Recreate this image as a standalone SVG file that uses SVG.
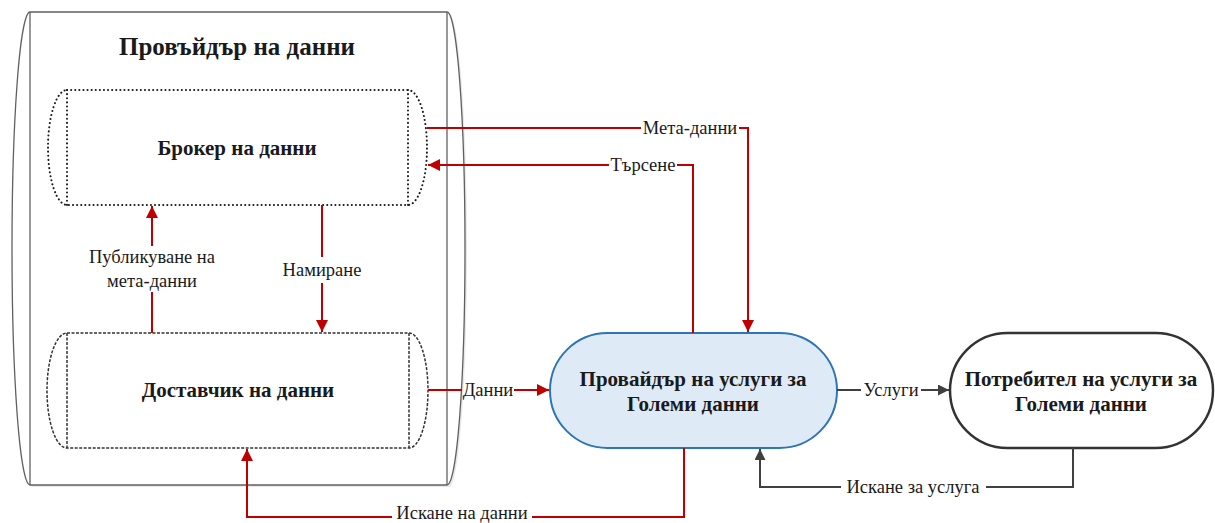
<svg xmlns="http://www.w3.org/2000/svg" width="1215" height="523" viewBox="0 0 1215 523">
<style>
text{font-family:"Liberation Serif","Times New Roman",serif;fill:#1a1a1a;text-anchor:middle}
.t{font-weight:bold}
.lbl{font-size:18.5px}
.red{stroke:#C00000;stroke-width:2;fill:none}
.gray{stroke:#404040;stroke-width:2;fill:none}
.cont{stroke:#606060;stroke-width:1.3;fill:#fff}
.dot{stroke:#1a1a1a;stroke-width:2;fill:#fff;stroke-dasharray:0.1 4;stroke-linecap:round}
.dot2{stroke:#1a1a1a;stroke-width:2;fill:none;stroke-dasharray:0.1 4;stroke-linecap:round}
.dash{stroke:#333;stroke-width:1.5;fill:#fff;stroke-dasharray:3 1.5}
.dash2{stroke:#333;stroke-width:1.5;fill:none;stroke-dasharray:3 1.5}
</style>
<defs>
<marker id="ar" viewBox="0 0 10 10" refX="10" refY="5" markerWidth="14" markerHeight="12" markerUnits="userSpaceOnUse" orient="auto"><path d="M0,0 L10,5 L0,10 Z" fill="#C00000"/></marker>
<marker id="ag" viewBox="0 0 10 10" refX="10" refY="5" markerWidth="12" markerHeight="11" markerUnits="userSpaceOnUse" orient="auto"><path d="M0,0 L10,5 L0,10 Z" fill="#404040"/></marker>
</defs>
<g id="provider-container">
<path d="M32,14 H449 A18,236.5 0 0 1 449,487 H32 A18,236.5 0 0 1 32,14 Z" fill="#d8d8d8" opacity="0.6"/>
<path class="cont" d="M30,12 H447 A18,236.5 0 0 1 447,485 H30 A18,236.5 0 0 1 30,12 Z"/>
<line x1="30" y1="12" x2="30" y2="485" stroke="#606060" stroke-width="1.3"/>
<line x1="447" y1="12" x2="447" y2="485" stroke="#606060" stroke-width="1.3"/>
<text class="t" x="237" y="55" font-size="25">Провъйдър на данни</text>
</g>
<g id="broker">
<path class="dot" d="M67,90 H408 A19,57.5 0 0 1 408,205 H67 A19,57.5 0 0 1 67,90 Z"/>
<line class="dot2" x1="67" y1="90" x2="67" y2="205"/>
<line class="dot2" x1="408" y1="90" x2="408" y2="205"/>
<text class="t" x="237" y="155" font-size="21">Брокер на данни</text>
</g>
<g id="supplier">
<path class="dash" d="M67,333 H409 A19,57.5 0 0 1 409,448 H67 A20,57.5 0 0 1 67,333 Z"/>
<line class="dash2" x1="67" y1="333" x2="67" y2="448"/>
<line class="dash2" x1="409" y1="333" x2="409" y2="448"/>
<text class="t" x="238" y="397" font-size="21">Доставчик на данни</text>
</g>
<g id="bigdata-provider">
<rect x="550" y="333" width="287" height="115" rx="57.5" fill="#DEEBF7" stroke="#2E75B6" stroke-width="2"/>
<text class="t" x="693" y="386" font-size="21">Провайдър на услуги за</text>
<text class="t" x="693" y="411" font-size="21">Големи данни</text>
</g>
<g id="bigdata-consumer">
<rect x="950" y="333" width="263" height="115" rx="57.5" fill="#fff" stroke="#333" stroke-width="2.5"/>
<text class="t" x="1081" y="386" font-size="21">Потребител на услуги за</text>
<text class="t" x="1081" y="411" font-size="21">Големи данни</text>
</g>
<g id="connectors">
<path class="red" d="M152,333 V292"/>
<path class="red" d="M152,246 V206" marker-end="url(#ar)"/>
<text class="lbl" x="152" y="263">Публикуване на</text>
<text class="lbl" x="152" y="287">мета-данни</text>
<path class="red" d="M322,205 V257"/>
<path class="red" d="M322,283 V332" marker-end="url(#ar)"/>
<text class="lbl" x="322" y="276">Намиране</text>
<path class="red" d="M427,128 H641"/>
<path class="red" d="M739,128 H748 V332" marker-end="url(#ar)"/>
<text class="lbl" x="690" y="134">Мета-данни</text>
<path class="red" d="M693,333 V165 H677"/>
<path class="red" d="M609,165 H428" marker-end="url(#ar)"/>
<text class="lbl" x="643" y="171">Търсене</text>
<path class="red" d="M428,390 H462"/>
<path class="red" d="M514,390 H549" marker-end="url(#ar)"/>
<text class="lbl" x="488" y="396">Данни</text>
<path class="gray" d="M837,390 H861"/>
<path class="gray" d="M921,390 H949" marker-end="url(#ag)"/>
<text class="lbl" x="891" y="396">Услуги</text>
<path class="gray" d="M1073,448 V487 H986"/>
<path class="gray" d="M841,487 H760 V449" marker-end="url(#ag)"/>
<text class="lbl" x="913" y="493">Искане за услуга</text>
<path class="red" d="M684,448 V517 H532"/>
<path class="red" d="M392,517 H247 V449" marker-end="url(#ar)"/>
<text class="lbl" x="462" y="519" font-size="18">Искане на данни</text>
</g>
</svg>
